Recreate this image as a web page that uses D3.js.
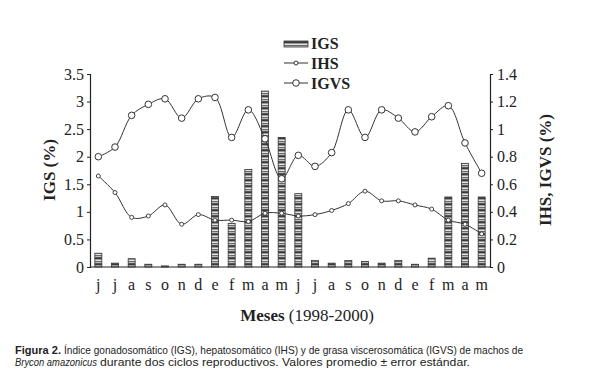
<!DOCTYPE html>
<html>
<head>
<meta charset="utf-8">
<script src="https://cdn.jsdelivr.net/npm/d3@7"></script>
<style>
  body { margin: 0; background: #fff; }
  svg text { fill: #222; }
</style>
</head>
<body>
<svg id="chart" width="589" height="376"></svg>
<script>
// months jun 1998 - may 2000
var months = ["j","j","a","s","o","n","d","e","f","m","a","m","j","j","a","s","o","n","d","e","f","m","a","m"];
var igs  = [0.25,0.07,0.15,0.05,0.02,0.05,0.05,1.28,0.79,1.77,3.19,2.35,1.33,0.12,0.07,0.12,0.10,0.07,0.12,0.05,0.16,1.27,1.88,1.27];
var ihs  = [0.66,0.54,0.36,0.37,0.45,0.31,0.38,0.34,0.34,0.33,0.39,0.39,0.37,0.38,0.41,0.46,0.55,0.48,0.48,0.45,0.42,0.34,0.31,0.24];
var igvs = [0.80,0.87,1.10,1.18,1.22,1.08,1.22,1.23,0.94,1.14,0.93,0.64,0.81,0.73,0.83,1.14,0.94,1.14,1.08,0.98,1.09,1.17,0.90,0.68];
var leftTicks  = [0,0.5,1,1.5,2,2.5,3,3.5];
var rightTicks = [0,0.2,0.4,0.6,0.8,1,1.2,1.4];

var svg = d3.select("#chart");
var serif = "'Liberation Serif', 'Times New Roman', serif";

var x = d3.scaleBand().domain(d3.range(months.length)).range([90, 490]).paddingInner(0.58).paddingOuter(0.29);
var xc = function(i) { return x(i) + x.bandwidth() / 2; };
var yL = d3.scaleLinear().domain([0, 3.5]).range([267, 74]);
var yR = d3.scaleLinear().domain([0, 1.4]).range([267, 74]);

// striped bar fill
var defs = svg.append("defs");
var pat = defs.append("pattern").attr("id", "stripes").attr("patternUnits", "userSpaceOnUse")
  .attr("width", 10).attr("height", 6);
var stripeCols = ["#3a3a3a", "#9a9a9a", "#e2e2e2", "#6a6a6a", "#bcbcbc", "#555"];
stripeCols.forEach(function(c, i) {
  pat.append("rect").attr("x", 0).attr("y", i).attr("width", 10).attr("height", 1).attr("fill", c);
});

// bars
svg.append("g").selectAll("rect").data(igs).enter().append("rect")
  .attr("x", function(d, i) { return x(i); })
  .attr("y", function(d) { return yL(d); })
  .attr("width", x.bandwidth())
  .attr("height", function(d) { return yL(0) - yL(d); })
  .attr("fill", "url(#stripes)")
  .attr("stroke", "#333").attr("stroke-width", 0.8);

// lines
var lineR = d3.line().x(function(d, i) { return xc(i); }).y(function(d) { return yR(d); })
  .curve(d3.curveCatmullRom.alpha(0.5));

svg.append("path").datum(igvs).attr("d", lineR).attr("fill", "none").attr("stroke", "#333").attr("stroke-width", 1);
svg.append("path").datum(ihs).attr("d", lineR).attr("fill", "none").attr("stroke", "#333").attr("stroke-width", 1);

svg.append("g").selectAll("circle").data(igvs).enter().append("circle")
  .attr("cx", function(d, i) { return xc(i); }).attr("cy", function(d) { return yR(d); })
  .attr("r", 3.3).attr("fill", "#fff").attr("stroke", "#333").attr("stroke-width", 1);
svg.append("g").selectAll("circle").data(ihs).enter().append("circle")
  .attr("cx", function(d, i) { return xc(i); }).attr("cy", function(d) { return yR(d); })
  .attr("r", 2).attr("fill", "#fff").attr("stroke", "#333").attr("stroke-width", 0.9);

// axes
var axL = d3.axisLeft(yL).tickValues(leftTicks).tickSize(3).tickPadding(3)
  .tickFormat(function(d) { return String(d); });
var gL = svg.append("g").attr("transform", "translate(90,0)").call(axL);

var axR = d3.axisRight(yR).tickValues(rightTicks).tickSize(3).tickPadding(4)
  .tickFormat(function(d) { return String(d); });
var gR = svg.append("g").attr("transform", "translate(490,0)").call(axR);

var axB = d3.axisBottom(x).tickSize(0).tickPadding(12).tickFormat(function(i) { return months[i]; });
var gB = svg.append("g").attr("transform", "translate(0,267)").call(axB);

[gL, gR, gB].forEach(function(g) {
  g.selectAll("path.domain").attr("stroke", "#222").attr("stroke-width", 1.2);
  g.selectAll("line").attr("stroke", "#222");
  g.selectAll("text").attr("font-family", serif).attr("font-size", 16).attr("fill", "#222");
});
gB.select("path.domain").attr("d", "M90,0H490");

// axis titles
svg.append("text").attr("transform", "translate(55,170) rotate(-90)")
  .attr("text-anchor", "middle").attr("font-family", serif).attr("font-size", 17).attr("font-weight", "bold")
  .text("IGS (%)");
svg.append("text").attr("transform", "translate(551,170) rotate(-90)")
  .attr("text-anchor", "middle").attr("font-family", serif).attr("font-size", 17).attr("font-weight", "bold")
  .text("IHS, IGVS (%)");

var xt = svg.append("text").attr("x", 307).attr("y", 321).attr("text-anchor", "middle")
  .attr("font-family", serif).attr("font-size", 17);
xt.append("tspan").attr("font-weight", "bold").text("Meses ");
xt.append("tspan").text("(1998-2000)");

// legend
var leg = svg.append("g");
leg.append("rect").attr("x", 284).attr("y", 41).attr("width", 24).attr("height", 6)
  .attr("fill", "url(#stripes)").attr("stroke", "#333").attr("stroke-width", 0.8);
leg.append("line").attr("x1", 284).attr("x2", 308).attr("y1", 63).attr("y2", 63).attr("stroke", "#333");
leg.append("circle").attr("cx", 296).attr("cy", 63).attr("r", 2).attr("fill", "#fff").attr("stroke", "#333");
leg.append("line").attr("x1", 284).attr("x2", 308).attr("y1", 83).attr("y2", 83).attr("stroke", "#333");
leg.append("circle").attr("cx", 296).attr("cy", 83).attr("r", 3.3).attr("fill", "#fff").attr("stroke", "#333");
var legNames = ["IGS", "IHS", "IGVS"];
legNames.forEach(function(n, i) {
  leg.append("text").attr("x", 311).attr("y", 49 + i * 20).attr("font-family", serif)
    .attr("font-size", 16).attr("font-weight", "bold").text(n);
});

// caption: each piece is its own text, stretched to the reference widths
var sans = "'Liberation Sans', Arial, sans-serif";
function capPiece(txt, x0, y0, x1, weight, style) {
  var t = svg.append("text").attr("x", x0).attr("y", y0).attr("font-family", sans)
    .attr("font-size", 10.5).attr("font-weight", weight || "normal").attr("font-style", style || "normal")
    .text(txt);
  if (x1) t.attr("textLength", x1 - x0).attr("lengthAdjust", "spacingAndGlyphs");
  return t;
}
capPiece("Figura 2.", 15, 353.5, 61, "bold");
capPiece("Índice gonadosomático (IGS), hepatosomático (IHS) y de grasa viscerosomática (IGVS) de machos de", 64, 353.5, 523);
capPiece("Brycon amazonicus", 15, 366, 97, "normal", "italic");
capPiece("durante dos ciclos reproductivos. Valores promedio ± error estándar.", 100, 366, 470);
</script>
</body>
</html>
